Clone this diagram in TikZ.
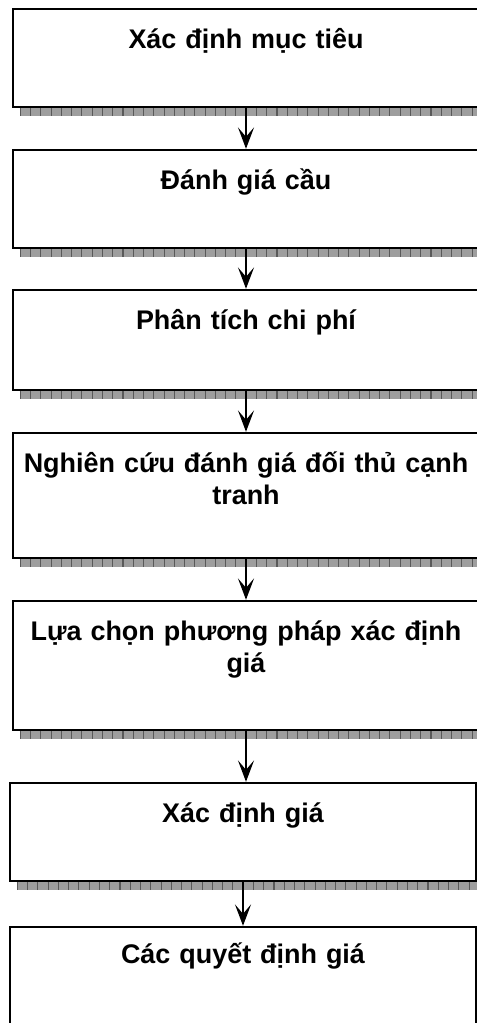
\documentclass[tikz,border=0pt]{standalone}
\usepackage{fontspec}
\setmainfont{Liberation Sans}
\usetikzlibrary{arrows.meta,positioning}

\tikzset{
  stepbox/.style={draw, line width=1.8pt, minimum width=349.5pt, inner sep=0pt},
  steptext/.style={anchor=base, inner sep=0pt, text width=345pt, align=center,
    font=\fontsize{20.2}{24}\selectfont\bfseries},
  shadowfill/.style={fill=black!38},
  shadowtick/.style={line width=6pt, black!65, dash pattern=on 0.8pt off 6.9pt},
  flow/.style={line width=1.5pt, -{Stealth[length=16pt,width=12pt,inset=7pt]}},
}

\begin{document}
\begin{tikzpicture}[x=0.75pt,y=-0.75pt]
  \useasboundingbox (0,0) rectangle (477,1023);
  \clip (0,0) rectangle (477,1023);

  % the steps, top to bottom
  \node[stepbox, minimum height=73.5pt] (s1) at (246,58) {};
  \node[stepbox, minimum height=73.5pt] (s2) at (246,199) {};
  \node[stepbox, minimum height=75pt]   (s3) at (246,340) {};
  \node[stepbox, minimum height=93.75pt] (s4) at (246,495.5) {};
  \node[stepbox, minimum height=96.75pt] (s5) at (246,665.5) {};
  \node[stepbox, minimum height=73.5pt] (s6) at (243,832) {};
  \node[stepbox, minimum height=97.5pt] (s7) at (243,992) {};

  % grey strip under each box
  \foreach \i in {1,...,6}{
    \fill[shadowfill] ([xshift=6pt]s\i.south west) rectangle ([yshift=-6pt]s\i.south east);
    \draw[shadowtick] ([xshift=6pt,yshift=-3pt]s\i.south west) -- ([yshift=-3pt]s\i.south east);
  }

  \node[steptext] at ([yshift=-30.75pt]s1.north) {Xác định mục tiêu};
  \node[steptext] at ([yshift=-30.75pt]s2.north) {Đánh giá cầu};
  \node[steptext] at ([yshift=-30.75pt]s3.north) {Phân tích chi phí};
  \node[steptext] at ([yshift=-30.75pt]s4.north) {Nghiên cứu đánh giá đối thủ cạnh\\tranh};
  \node[steptext] at ([yshift=-30.75pt]s5.north) {Lựa chọn phương pháp xác định\\giá};
  \node[steptext] at ([yshift=-30.75pt]s6.north) {Xác định giá};
  \node[steptext] at ([yshift=-28.5pt]s7.north) {Các quyết định giá};

  % arrows between the steps
  \foreach \i/\j in {1/2,2/3,3/4,4/5,5/6,6/7}
    \draw[flow] (s\i.south) -- (s\i.south |- s\j.north);
\end{tikzpicture}
\end{document}
